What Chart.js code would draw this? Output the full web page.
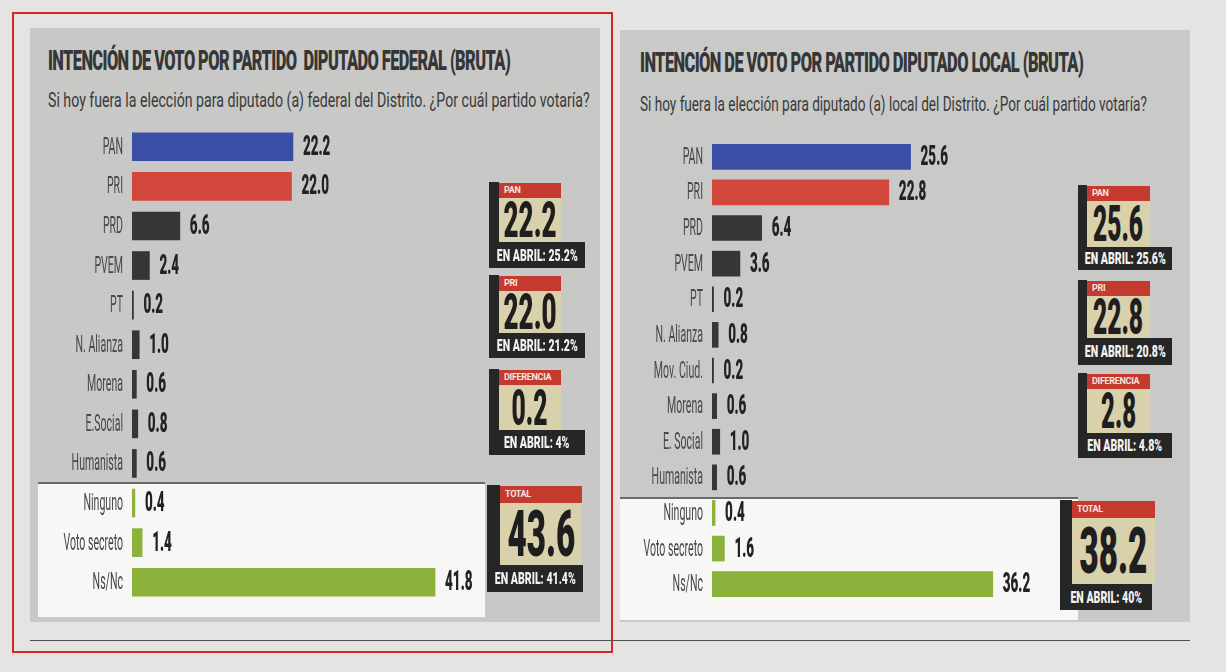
<!DOCTYPE html>
<html>
<head>
<meta charset="utf-8">
<script src="https://cdn.jsdelivr.net/npm/chart.js@4.4.1/dist/chart.umd.min.js"></script>
<style>
  body { margin:0; width:1226px; height:672px; background:#e4e4e2; position:relative; overflow:hidden; font-family:Roboto, "DejaVu Sans", sans-serif; }
  .abs { position:absolute; }
  .fit { position:absolute; white-space:nowrap; transform-origin:0 50%; line-height:1; }
  .title { font-weight:900; font-size:28px; color:#363636; letter-spacing:-1px; }
  .sub { font-weight:400; font-size:21px; color:#3a3a3a; }
  .box div { position:absolute; }
  .center { display:flex; justify-content:center; align-items:center; }
  .center span { display:inline-block; white-space:nowrap; transform-origin:50% 50%; line-height:1; }
</style>
</head>
<body>
<div class="abs" style="left:12px;top:12px;width:597px;height:637px;border:2px solid #d6262b;"></div>
<div class="abs" style="left:30px;top:28px;width:570px;height:594px;background:#c8c8c6;"></div>
<div class="abs" style="left:620px;top:30px;width:570px;height:592px;background:#c9c9c7;"></div>
<div class="abs" style="left:38px;top:482px;width:447px;height:133px;background:#f7f7f5;border-top:2px solid #6a6a6a;"></div>
<div class="abs" style="left:620px;top:497px;width:458px;height:121px;background:#f7f7f5;border-top:2px solid #6a6a6a;"></div>
<div class="abs" style="left:30px;top:640px;width:1160px;height:1px;background:#505050;"></div>

<div class="fit title" data-w="462" style="left:48px;top:47px;">INTENCIÓN DE VOTO POR PARTIDO&nbsp; DIPUTADO FEDERAL (BRUTA)</div>
<div class="fit sub" data-w="542" style="left:48px;top:90px;">Si hoy fuera la elección para diputado (a) federal del Distrito. ¿Por cuál partido votaría?</div>
<div class="fit title" data-w="443" style="left:640px;top:49px;">INTENCIÓN DE VOTO POR PARTIDO DIPUTADO LOCAL (BRUTA)</div>
<div class="fit sub" data-w="507" style="left:640px;top:94px;">Si hoy fuera la elección para diputado (a) local del Distrito. ¿Por cuál partido votaría?</div>

<div class="abs" style="left:34px;top:127px;width:456px;height:475px;"><canvas id="federal" width="456" height="475"></canvas></div>
<div class="abs" style="left:620px;top:139px;width:420px;height:463px;"><canvas id="local" width="420" height="463"></canvas></div>

<div id="boxes"></div>

<script>
// datos: diputado federal
const fedLabels = ['PAN', 'PRI', 'PRD', 'PVEM', 'PT', 'N. Alianza', 'Morena', 'E.Social', 'Humanista', 'Ninguno', 'Voto secreto', 'Ns/Nc'];
const fedValues = [22.2, 22.0, 6.6, 2.4, 0.2, 1.0, 0.6, 0.8, 0.6, 0.4, 1.4, 41.8];

// datos: diputado local
const locLabels = ['PAN', 'PRI', 'PRD', 'PVEM', 'PT', 'N. Alianza', 'Mov. Ciud.', 'Morena', 'E. Social', 'Humanista', 'Ninguno', 'Voto secreto', 'Ns/Nc'];
const locValues = [25.6, 22.8, 6.4, 3.6, 0.2, 0.8, 0.2, 0.6, 1.0, 0.6, 0.4, 1.6, 36.2];

// recuadros
const boxTags = ['PAN', 'PRI', 'DIFERENCIA', 'TOTAL'];
const fedBig = ['22.2', '22.0', '0.2', '43.6'];
const fedAbril = ['EN ABRIL: 25.2%', 'EN ABRIL: 21.2%', 'EN ABRIL: 4%', 'EN ABRIL: 41.4%'];
const locBig = ['25.6', '22.8', '2.8', '38.2'];
const locAbril = ['EN ABRIL: 25.6%', 'EN ABRIL: 20.8%', 'EN ABRIL: 4.8%', 'EN ABRIL: 40%'];

const otros = ['Ninguno', 'Voto secreto', 'Ns/Nc'];

function barColors(labels) {
    return labels.map((l, i) => {
        if (i === 0) return '#3a4ea6';
        if (i === 1) return '#d4473d';
        if (otros.includes(l)) return '#8cb23c';
        return '#363636';
    });
}

function condensed(ctx, text, x, y, align, font, sx, color) {
    ctx.save();
    ctx.translate(x, y);
    ctx.scale(sx, 1);
    ctx.font = font;
    ctx.fillStyle = color;
    ctx.textAlign = align;
    ctx.textBaseline = 'middle';
    ctx.fillText(text, 0, 0);
    ctx.restore();
}

// etiquetas de partido y valores
const rowLabels = {
    id: 'rowLabels',
    afterDatasetsDraw(chart) {
        const ctx = chart.ctx;
        const meta = chart.getDatasetMeta(0);
        const yScale = chart.scales.y;
        chart.data.labels.forEach((lab, i) => {
            const py = yScale.getPixelForValue(i);
            condensed(ctx, lab, chart.chartArea.left - 9, py + 1, 'right', '400 24px Roboto', 0.44, '#484848');
            const v = chart.data.datasets[0].data[i];
            condensed(ctx, v.toFixed(1), meta.data[i].x + 10, py + 1, 'left', '900 28px Roboto', 0.48, '#222');
        });
    }
};

function makeChart(id, labels, values, max, padLeft, thickness) {
    new Chart(document.getElementById(id), {
        type: 'bar',
        data: {
            labels: labels,
            datasets: [{
                data: values,
                backgroundColor: barColors(labels),
                barThickness: thickness,
                borderWidth: 0
            }]
        },
        options: {
            indexAxis: 'y',
            responsive: false,
            animation: false,
            layout: { padding: { left: padLeft, right: 10, top: 0, bottom: 0 } },
            scales: {
                x: { display: false, min: 0, max: max },
                y: { display: false }
            },
            plugins: {
                legend: { display: false },
                tooltip: { enabled: false }
            }
        },
        plugins: [rowLabels]
    });
}

makeChart('federal', fedLabels, fedValues, 48, 98, 28);
makeChart('local', locLabels, locValues, 41, 92, 25);

// geometria de los recuadros
const fedBoxes = [
    { x: 489, y: 182, w: 96, h: 86, bar: 10, tab: 62, tabH: 15, band: 26, num: 50, numW: 53 },
    { x: 489, y: 275, w: 96, h: 83, bar: 10, tab: 62, tabH: 15, band: 25, num: 50, numW: 53 },
    { x: 489, y: 369, w: 96, h: 86, bar: 10, tab: 62, tabH: 15, band: 25, num: 50, numW: 36 },
    { x: 487, y: 485, w: 96, h: 107, bar: 13, tab: 82, tabH: 17, band: 27, num: 64, numW: 68 }
];
const locBoxes = [
    { x: 1078, y: 185, w: 94, h: 85, bar: 9, tab: 63, tabH: 15, band: 23, num: 50, numW: 50 },
    { x: 1078, y: 280, w: 94, h: 85, bar: 9, tab: 63, tabH: 15, band: 27, num: 50, numW: 50 },
    { x: 1078, y: 373, w: 94, h: 85, bar: 9, tab: 63, tabH: 15, band: 25, num: 50, numW: 35 },
    { x: 1060, y: 500, w: 92, h: 110, bar: 12, tab: 83, tabH: 17, band: 26, num: 64, numW: 68 }
];

function makeBoxes(geo, big, abril) {
    const root = document.getElementById('boxes');
    geo.forEach((g, i) => {
        const b = document.createElement('div');
        b.className = 'abs box';
        b.style.cssText = `left:${g.x}px;top:${g.y}px;width:${g.w}px;height:${g.h}px;`;
        const beigeH = g.h - g.band - 1 - g.tabH;
        b.innerHTML =
            `<div style="left:0;top:0;width:${g.bar}px;height:${g.h - g.band}px;background:#262626"></div>` +
            `<div style="left:${g.bar}px;top:1px;width:${g.tab}px;height:${g.tabH}px;background:#c53a2f;color:#f4e6e0;font:700 9px Roboto;line-height:${g.tabH}px;padding-left:5px;box-sizing:border-box;letter-spacing:-0.3px">${boxTags[i]}</div>` +
            `<div class="center" style="left:${g.bar}px;top:${1 + g.tabH}px;width:${g.tab}px;height:${beigeH}px;background:#d9d0ac"><span class="num" data-w="${g.numW}" style="font:900 ${g.num}px Roboto;color:#1e1e1e">${big[i]}</span></div>` +
            `<div class="center" style="left:0;bottom:0;width:${g.w}px;height:${g.band}px;background:#262626"><span style="font:900 16px Roboto;color:#f2f2f2;transform:scaleX(0.66)">${abril[i]}</span></div>`;
        root.appendChild(b);
    });
}

makeBoxes(fedBoxes, fedBig, fedAbril);
makeBoxes(locBoxes, locBig, locAbril);

// ajustar textos condensados al ancho
document.querySelectorAll('.fit, .num').forEach(el => {
    const w = +el.dataset.w;
    el.style.transform = `scaleX(${w / el.scrollWidth})`;
});
</script>
</body>
</html>
